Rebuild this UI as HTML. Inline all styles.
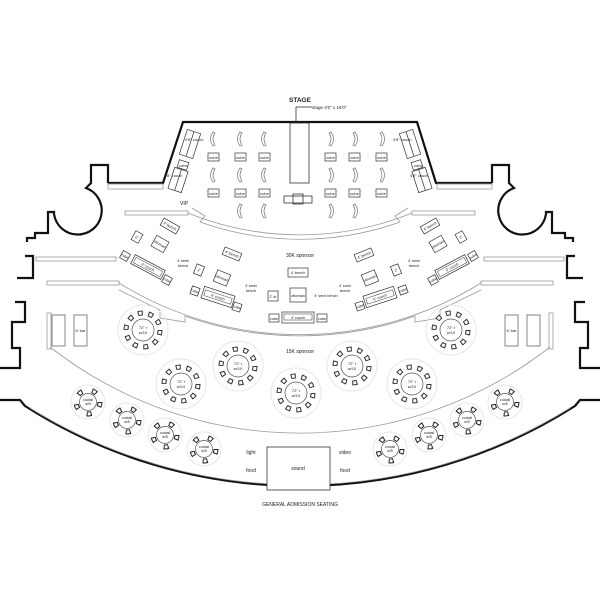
<!DOCTYPE html>
<html><head><style>
html,body{margin:0;padding:0;background:#fff}
svg{display:block}
text{font-family:"Liberation Sans",sans-serif;fill:#222}
</style></head><body>
<svg width="600" height="600" viewBox="0 0 600 600" xmlns="http://www.w3.org/2000/svg">
<defs>
<g id="t72">
<circle r="25" fill="none" stroke="#e6e6e6" stroke-width="1"/>
<circle r="17" fill="none" stroke="#333" stroke-width="5" stroke-dasharray="5 5.68"/>
<circle r="17" fill="none" stroke="#fff" stroke-width="3" stroke-dasharray="3 7.68" stroke-dashoffset="-1"/>
<circle r="11" fill="#fff" stroke="#555" stroke-width="0.7"/>
</g>
<g id="tc">
<circle r="17" fill="none" stroke="#e6e6e6" stroke-width="1"/>
<circle r="12" fill="none" stroke="#222" stroke-width="5" stroke-dasharray="5 10.08"/>
<circle r="12" fill="none" stroke="#fff" stroke-width="3" stroke-dasharray="3 12.08" stroke-dashoffset="-1"/>
<circle r="8.5" fill="#fff" stroke="#555" stroke-width="0.7"/>
</g>
</defs>

<!-- outer walls thick -->
<g fill="none" stroke="#111" stroke-width="2.2">
<polyline points="108,183 163,183 183,122 417,122 436,183 492,183"/>
<path d="M108,183 V165 H91 V183 L86,188 A24,24 0 1 1 54,214 V212 H48 V233 H35 V238 H27 V242"/>
<path d="M492,183 V165 H509 V183 L514,188 A24,24 0 1 0 546,214 V212 H552 V233 H565 V238 H573 V242"/>
<polyline points="25,256 33,256 33,278 17,278"/>
<polyline points="575,256 567,256 567,278 583,278"/>
<polyline points="15,302 25,302 25,322 12,322 12,348 20,348 20,368 0,368"/>
<polyline points="585,302 575,302 575,322 588,322 588,348 580,348 580,368 600,368"/>
<path d="M0,400 H20 L25,406 A513,513 0 0 0 575,406 L580,400 H600"/>
</g>

<!-- gray inner walls -->
<g fill="none" stroke="#999" stroke-width="0.8">
<rect x="108" y="184" width="55" height="5"/>
<rect x="437" y="184" width="55" height="5"/>
<rect x="125" y="211" width="63" height="4"/>
<rect x="412" y="211" width="63" height="4"/>
<rect x="36" y="257" width="80" height="4"/>
<rect x="484" y="257" width="80" height="4"/>
<rect x="47" y="281" width="72" height="4"/>
<rect x="481" y="281" width="72" height="4"/>
<path d="M188,213 A298,298 0 0 0 412,213"/>
<path d="M192,208 L205,216 L200,222 A298,298 0 0 0 400,222 L395,216 L408,208"/>
<path d="M119,283 A343,343 0 0 0 481,283"/>
<path d="M119,290 L160,310 L160,318 L185,322 L185,316 A343,343 0 0 0 415,316 L415,322 L440,318 L440,310 L481,290"/>
<path d="M50,347 A406,406 0 0 0 550,347"/>
<path d="M30,408 A513,513 0 0 0 570,408"/>
<rect x="47" y="313" width="4" height="36"/>
<rect x="549" y="313" width="4" height="36"/>
</g>

<!-- stage -->
<g fill="none" stroke="#333" stroke-width="0.8">
<rect x="290" y="123" width="19" height="60"/>
<rect x="284" y="196" width="28" height="7"/>
<rect x="293" y="194" width="10" height="10"/>
<line x1="296" y1="107" x2="296" y2="122"/>
<line x1="296" y1="107" x2="312" y2="107"/>
</g>
<text x="300" y="102" font-size="6.5" text-anchor="middle" font-weight="bold">STAGE</text>
<text x="312" y="109" font-size="4.5">stage 4'0" x 16'0"</text>

<!-- cubes -->
<g font-size="4" text-anchor="middle">
<g fill="#fff" stroke="#333" stroke-width="0.7">
<rect x="208" y="153" width="11" height="8"/><rect x="235" y="153" width="11" height="8"/><rect x="259" y="153" width="11" height="8"/>
<rect x="325" y="153" width="11" height="8"/><rect x="349" y="153" width="11" height="8"/><rect x="376" y="153" width="11" height="8"/>
<rect x="208" y="189" width="11" height="8"/><rect x="235" y="189" width="11" height="8"/><rect x="259" y="189" width="11" height="8"/>
<rect x="325" y="189" width="11" height="8"/><rect x="349" y="189" width="11" height="8"/><rect x="376" y="189" width="11" height="8"/>
</g>
<text x="213.5" y="159">cube</text><text x="240.5" y="159">cube</text><text x="264.5" y="159">cube</text>
<text x="330.5" y="159">cube</text><text x="354.5" y="159">cube</text><text x="381.5" y="159">cube</text>
<text x="213.5" y="195">cube</text><text x="240.5" y="195">cube</text><text x="264.5" y="195">cube</text>
<text x="330.5" y="195">cube</text><text x="354.5" y="195">cube</text><text x="381.5" y="195">cube</text>
</g>
<!-- curved chairs -->
<g fill="none" stroke="#777" stroke-width="0.7">
<path d="M213,132 q-5,7 0,14 l2,-1 q-4,-6 0,-12 z"/><path d="M240,132 q-5,7 0,14 l2,-1 q-4,-6 0,-12 z"/><path d="M264,132 q-5,7 0,14 l2,-1 q-4,-6 0,-12 z"/>
<path d="M331,132 q5,7 0,14 l-2,-1 q4,-6 0,-12 z"/><path d="M355,132 q5,7 0,14 l-2,-1 q4,-6 0,-12 z"/><path d="M382,132 q5,7 0,14 l-2,-1 q4,-6 0,-12 z"/>
<path d="M213,168 q-5,7 0,14 l2,-1 q-4,-6 0,-12 z"/><path d="M240,168 q-5,7 0,14 l2,-1 q-4,-6 0,-12 z"/><path d="M264,168 q-5,7 0,14 l2,-1 q-4,-6 0,-12 z"/>
<path d="M331,168 q5,7 0,14 l-2,-1 q4,-6 0,-12 z"/><path d="M355,168 q5,7 0,14 l-2,-1 q4,-6 0,-12 z"/><path d="M382,168 q5,7 0,14 l-2,-1 q4,-6 0,-12 z"/>
<path d="M240,204 q-5,7 0,14 l2,-1 q-4,-6 0,-12 z"/><path d="M264,204 q-5,7 0,14 l2,-1 q-4,-6 0,-12 z"/>
<path d="M331,204 q5,7 0,14 l-2,-1 q4,-6 0,-12 z"/><path d="M355,204 q5,7 0,14 l-2,-1 q4,-6 0,-12 z"/>
</g>
<!-- stage couches -->
<g fill="none" stroke="#333" stroke-width="0.7">
<g transform="translate(190,144) rotate(18)"><rect x="-7" y="-13" width="14" height="26"/><line x1="0" y1="-13" x2="0" y2="13"/></g>
<g transform="translate(183,165) rotate(18)"><rect x="-5" y="-4" width="10" height="8"/></g>
<g transform="translate(178,180) rotate(18)"><rect x="-7" y="-11" width="14" height="22"/><line x1="0" y1="-11" x2="0" y2="11"/></g>
<g transform="translate(410,144) rotate(-18)"><rect x="-7" y="-13" width="14" height="26"/><line x1="0" y1="-13" x2="0" y2="13"/></g>
<g transform="translate(417,165) rotate(-18)"><rect x="-5" y="-4" width="10" height="8"/></g>
<g transform="translate(422,180) rotate(-18)"><rect x="-7" y="-11" width="14" height="22"/><line x1="0" y1="-11" x2="0" y2="11"/></g>
</g>
<g font-size="4">
<text x="185" y="141">4'8" couch</text><text x="179" y="167">cube</text><text x="164" y="177">4'8" couch</text>
<text x="393" y="141">4'8" couch</text><text x="414" y="167">cube</text><text x="410" y="177">4'8" couch</text>
</g>
<text x="180" y="205" font-size="5">VIP</text>

<!-- 30K sponsor furniture -->
<g font-size="3.8" text-anchor="middle">
<g transform="translate(170,226) rotate(30)"><rect x="-9" y="-4" width="18" height="8" fill="none" stroke="#333" stroke-width="0.7"/><text y="1.5">4' bench</text></g>
<g transform="translate(137,237) rotate(30)"><rect x="-4" y="-5" width="8" height="10" fill="none" stroke="#333" stroke-width="0.7"/><text y="1.5">2'</text></g>
<g transform="translate(160,244) rotate(30)"><rect x="-7" y="-6" width="14" height="12" fill="none" stroke="#333" stroke-width="0.7"/><text y="1.5">ottoman</text></g>
<g transform="translate(125,256) rotate(30)"><rect x="-4" y="-4" width="8" height="8" fill="none" stroke="#333" stroke-width="0.7"/><text y="1.5">cube</text></g>
<g transform="translate(148,267) rotate(28)"><rect x="-17" y="-5" width="34" height="10" fill="none" stroke="#333" stroke-width="0.7"/><rect x="-15" y="-3" width="30" height="6" fill="none" stroke="#333" stroke-width="0.5"/><text y="1.5">6' couch</text></g>
<g transform="translate(167,280) rotate(28)"><rect x="-4" y="-4" width="8" height="8" fill="none" stroke="#333" stroke-width="0.7"/><text y="1.5">cube</text></g>
<text x="183" y="262">4' semi</text><text x="183" y="267">bench</text>
<g transform="translate(232,254) rotate(22)"><rect x="-9" y="-4" width="18" height="8" fill="none" stroke="#333" stroke-width="0.7"/><text y="1.5">4' bench</text></g>
<g transform="translate(199,270) rotate(22)"><rect x="-4" y="-5" width="8" height="10" fill="none" stroke="#333" stroke-width="0.7"/><text y="1.5">2'</text></g>
<g transform="translate(222,278) rotate(22)"><rect x="-7" y="-6" width="14" height="12" fill="none" stroke="#333" stroke-width="0.7"/><text y="1.5">ottoman</text></g>
<g transform="translate(195,291) rotate(20)"><rect x="-4" y="-4" width="8" height="8" fill="none" stroke="#333" stroke-width="0.7"/><text y="1.5">cube</text></g>
<g transform="translate(218,297) rotate(18)"><rect x="-16" y="-6" width="32" height="12" fill="none" stroke="#333" stroke-width="0.7"/><rect x="-14" y="-3" width="28" height="6" fill="none" stroke="#333" stroke-width="0.5"/><text y="1.5">6' couch</text></g>
<g transform="translate(237,307) rotate(18)"><rect x="-4" y="-4" width="8" height="8" fill="none" stroke="#333" stroke-width="0.7"/><text y="1.5">cube</text></g>
<text x="251" y="287">4' semi</text><text x="251" y="292">bench</text>
<rect x="268" y="291" width="10" height="10" fill="none" stroke="#333" stroke-width="0.7"/><text x="273" y="298">2' dr</text>
<rect x="290" y="288" width="16" height="14" fill="none" stroke="#333" stroke-width="0.7"/><text x="298" y="297">ottoman</text>
<rect x="288" y="268" width="20" height="9" fill="none" stroke="#333" stroke-width="0.7"/><text x="298" y="274">4' bench</text>
<text x="326" y="297">4' semi bench</text>
<rect x="269" y="314" width="10" height="8" fill="none" stroke="#333" stroke-width="0.7"/><text x="274" y="320">cube</text>
<rect x="282" y="312" width="32" height="11" fill="none" stroke="#333" stroke-width="0.7"/><rect x="284" y="314" width="28" height="6" fill="none" stroke="#333" stroke-width="0.5"/><text x="298" y="319">4' couch</text>
<rect x="317" y="314" width="10" height="8" fill="none" stroke="#333" stroke-width="0.7"/><text x="322" y="320">cube</text>
<g transform="translate(364,255) rotate(-22)"><rect x="-9" y="-4" width="18" height="8" fill="none" stroke="#333" stroke-width="0.7"/><text y="1.5">4' bench</text></g>
<text x="345" y="287">4' semi</text><text x="345" y="292">bench</text>
<g transform="translate(370,278) rotate(-22)"><rect x="-7" y="-6" width="14" height="12" fill="none" stroke="#333" stroke-width="0.7"/><text y="1.5">ottoman</text></g>
<g transform="translate(396,270) rotate(-22)"><rect x="-4" y="-5" width="8" height="10" fill="none" stroke="#333" stroke-width="0.7"/><text y="1.5">2'</text></g>
<text x="414" y="262">4' semi</text><text x="414" y="267">bench</text>
<g transform="translate(360,306) rotate(-18)"><rect x="-4" y="-4" width="8" height="8" fill="none" stroke="#333" stroke-width="0.7"/><text y="1.5">cube</text></g>
<g transform="translate(380,297) rotate(-18)"><rect x="-16" y="-6" width="32" height="12" fill="none" stroke="#333" stroke-width="0.7"/><rect x="-14" y="-3" width="28" height="6" fill="none" stroke="#333" stroke-width="0.5"/><text y="1.5">6' couch</text></g>
<g transform="translate(403,290) rotate(-20)"><rect x="-4" y="-4" width="8" height="8" fill="none" stroke="#333" stroke-width="0.7"/><text y="1.5">cube</text></g>
<g transform="translate(430,226) rotate(-30)"><rect x="-9" y="-4" width="18" height="8" fill="none" stroke="#333" stroke-width="0.7"/><text y="1.5">4' bench</text></g>
<g transform="translate(438,244) rotate(-30)"><rect x="-7" y="-6" width="14" height="12" fill="none" stroke="#333" stroke-width="0.7"/><text y="1.5">ottoman</text></g>
<g transform="translate(461,237) rotate(-30)"><rect x="-4" y="-5" width="8" height="10" fill="none" stroke="#333" stroke-width="0.7"/><text y="1.5">2'</text></g>
<g transform="translate(433,280) rotate(-28)"><rect x="-4" y="-4" width="8" height="8" fill="none" stroke="#333" stroke-width="0.7"/><text y="1.5">cube</text></g>
<g transform="translate(452,267) rotate(-28)"><rect x="-17" y="-5" width="34" height="10" fill="none" stroke="#333" stroke-width="0.7"/><rect x="-15" y="-3" width="30" height="6" fill="none" stroke="#333" stroke-width="0.5"/><text y="1.5">6' couch</text></g>
<g transform="translate(473,256) rotate(-30)"><rect x="-4" y="-4" width="8" height="8" fill="none" stroke="#333" stroke-width="0.7"/><text y="1.5">cube</text></g>
</g>
<text x="300" y="257" font-size="5" text-anchor="middle">30K sponsor</text>
<text x="300" y="353" font-size="5" text-anchor="middle">15K sponsor</text>

<!-- bars -->
<g fill="none" stroke="#666" stroke-width="0.8">
<rect x="52" y="315" width="13" height="31"/><rect x="74" y="315" width="13" height="31"/>
<rect x="505" y="315" width="13" height="31"/><rect x="527" y="315" width="13" height="31"/>
</g>
<text x="80.5" y="332" font-size="4" text-anchor="middle">6' bar</text>
<text x="511.5" y="332" font-size="4" text-anchor="middle">6' bar</text>

<!-- 72" tables -->
<g font-size="4" text-anchor="middle">
<use href="#t72" x="143" y="330"/><text x="143" y="329">72" r</text><text x="143" y="334">w/10</text>
<use href="#t72" x="181" y="384"/><text x="181" y="383">72" r</text><text x="181" y="388">w/10</text>
<use href="#t72" x="238" y="366"/><text x="238" y="365">72" r</text><text x="238" y="370">w/10</text>
<use href="#t72" x="296" y="393"/><text x="296" y="392">72" r</text><text x="296" y="397">w/10</text>
<use href="#t72" x="352" y="366"/><text x="352" y="365">72" r</text><text x="352" y="370">w/10</text>
<use href="#t72" x="412" y="384"/><text x="412" y="383">72" r</text><text x="412" y="388">w/10</text>
<use href="#t72" x="451" y="330"/><text x="451" y="329">72" r</text><text x="451" y="334">w/10</text>
</g>
<!-- cocktail tables -->
<g font-size="3.6" text-anchor="middle">
<use href="#tc" x="88" y="402"/><text x="88" y="401">coctail</text><text x="88" y="405">w/5</text>
<use href="#tc" x="127" y="420"/><text x="127" y="419">coctail</text><text x="127" y="423">w/5</text>
<use href="#tc" x="165" y="435"/><text x="165" y="434">coctail</text><text x="165" y="438">w/5</text>
<use href="#tc" x="204" y="449"/><text x="204" y="448">coctail</text><text x="204" y="452">w/5</text>
<use href="#tc" x="390" y="449"/><text x="390" y="448">coctail</text><text x="390" y="452">w/5</text>
<use href="#tc" x="429" y="435"/><text x="429" y="434">coctail</text><text x="429" y="438">w/5</text>
<use href="#tc" x="467" y="420"/><text x="467" y="419">coctail</text><text x="467" y="423">w/5</text>
<use href="#tc" x="505" y="402"/><text x="505" y="401">coctail</text><text x="505" y="405">w/5</text>
</g>

<!-- sound -->
<rect x="267" y="447" width="63" height="43" fill="#fff" stroke="#333" stroke-width="0.8"/>
<g font-size="5" text-anchor="middle">
<text x="298" y="470">sound</text>
<text x="251" y="454">light</text><text x="251" y="472">food</text>
<text x="345" y="454">video</text><text x="345" y="472">food</text>
</g>
<text x="300" y="506" font-size="5" text-anchor="middle">GENERAL ADMISSION SEATING</text>
</svg>
</body></html>
